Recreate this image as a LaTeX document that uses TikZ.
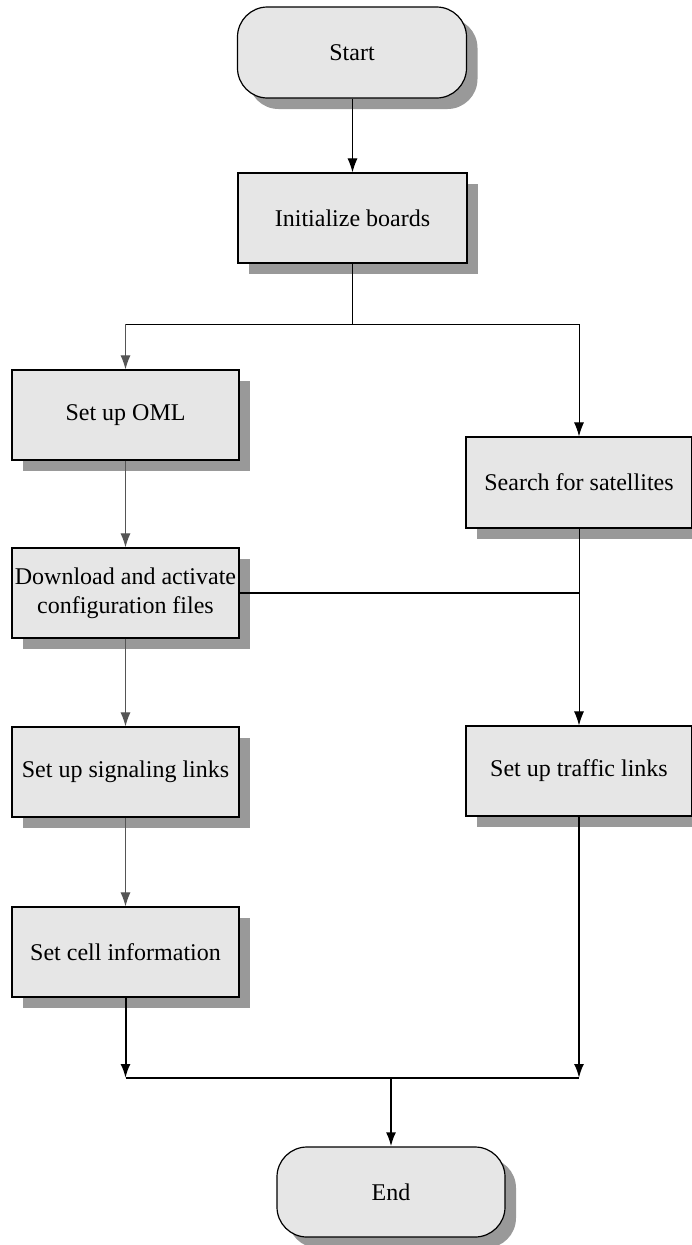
\documentclass[tikz,border=0pt]{standalone}
\usepackage{fontspec}
\setmainfont{Liberation Serif}
\usetikzlibrary{arrows.meta,shadows}
\definecolor{boxfill}{HTML}{E6E6E6}
\definecolor{shadowc}{HTML}{999999}
\definecolor{lgray}{HTML}{555555}
\begin{document}
\begin{tikzpicture}[x=1pt,y=-1pt,
  base/.style={draw=black, line width=1.2pt, fill=boxfill, inner sep=0pt, align=center,
    font=\fontsize{24}{29}\selectfont,
    drop shadow={shadow xshift=11pt, shadow yshift=-11pt, fill=shadowc, opacity=1}},
  procbox/.style={base, rectangle, minimum width=227pt, minimum height=90pt},
  termbox/.style={base, rectangle, rounded corners=30pt, minimum width=229pt, minimum height=91pt},
  flowline/.style={line width=1pt, draw=black},
  grayline/.style={line width=1pt, draw=lgray},
  boldline/.style={line width=2pt, draw=black},
  tip/.style={-{Latex[length=14pt,width=10pt]}}
]
\useasboundingbox (0,0) rectangle (691,1245);

\node[termbox] (start) at (352,52.5) {Start};
\node[procbox, minimum width=229pt] (init) at (352.5,218) {Initialize boards};
\node[procbox] (oml) at (125.5,415) {Set up OML};
\node[procbox, minimum width=226pt, minimum height=91pt] (search) at (579,482.5) {Search for satellites};
\node[procbox] (dl) at (125.5,593) {Download and activate\\configuration files};
\node[procbox] (sig) at (125.5,772) {Set up signaling links};
\node[procbox, minimum width=226pt] (traffic) at (579,771) {Set up traffic links};
\node[procbox] (cell) at (125.5,952) {Set cell information};
\node[termbox, minimum width=228pt, minimum height=90pt] (end) at (391,1192) {End};

\coordinate (sp) at (352.5,324);
\coordinate (spL) at (125.5,324);
\coordinate (spR) at (579,324);
\coordinate (mL) at (125.5,1078);
\coordinate (mR) at (579,1078);
\coordinate (mC) at (391,1078);

\draw[flowline, tip] (start.south -| init.north) -- (init.north);
\draw[flowline] (init.south) -- (sp);
\draw[flowline] (spL) -- (spR);
\draw[grayline, tip] (spL) -- (oml.north);
\draw[flowline, tip] (spR) -- (search.north);
\draw[grayline, tip] (oml.south) -- (dl.north);
\draw[boldline] (dl.east) -- (dl.east -| traffic.north);
\draw[flowline, tip] (search.south) -- (traffic.north);
\draw[grayline, tip] (dl.south) -- (sig.north);
\draw[grayline, tip] (sig.south) -- (cell.north);
\draw[boldline, tip] (cell.south) -- (mL);
\draw[boldline, tip] (traffic.south) -- (mR);
\draw[boldline] (mL) -- (mR);
\draw[boldline, tip] (mC) -- (end.north);
\end{tikzpicture}
\end{document}
